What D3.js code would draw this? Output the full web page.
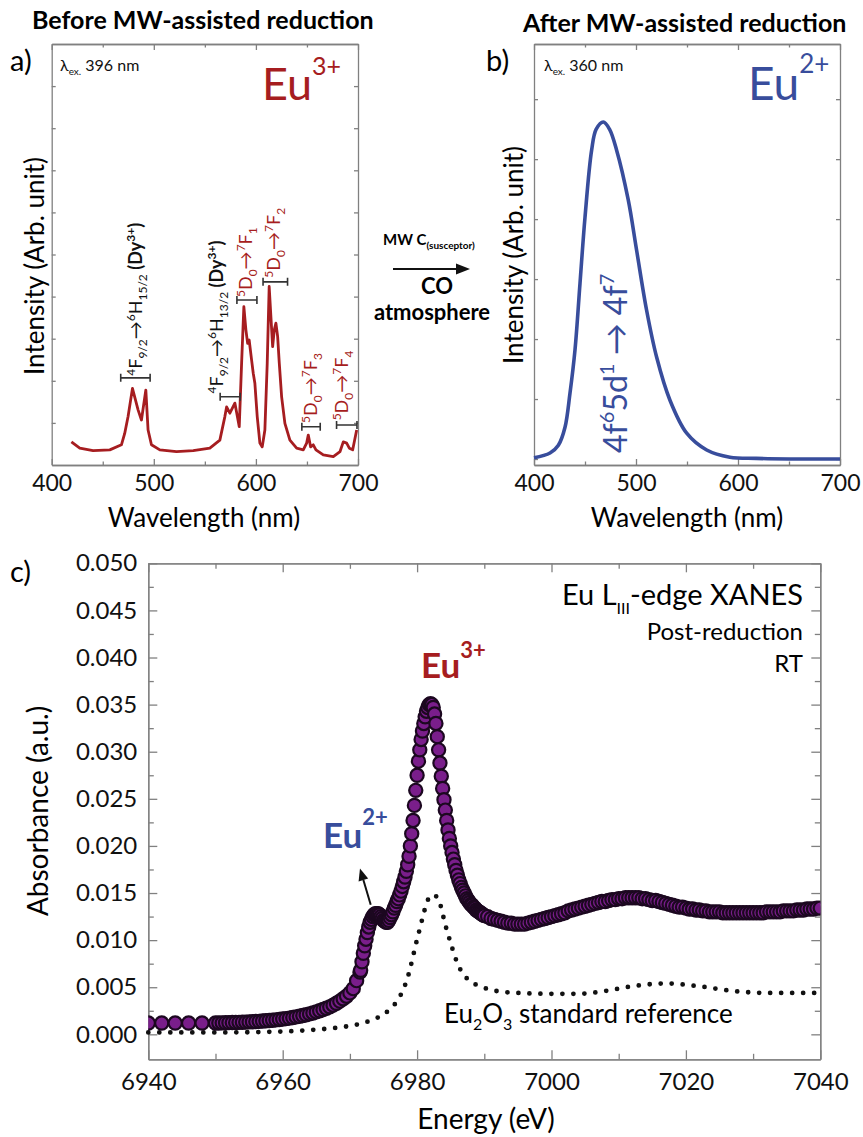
<!DOCTYPE html>
<html lang="en">
<head>
<meta charset="UTF-8">
<title>Eu emission before / after MW reduction and Eu L3-edge XANES</title>
<style>
  body { margin: 0; background: #fff; }
  svg text { font-family: Lato, "DejaVu Sans", sans-serif; }
</style>
</head>
<body>
<script src="https://d3js.org/d3.v7.min.js"></script>
<script>

// ---- panel a : emission before reduction (lambda ex 396 nm)
const wlA = [419.3, 427.5, 440.5, 456.9, 468.3, 471.5, 474.8, 479.1, 484.6, 487.9, 492.2, 494.4, 497.7,
  505.9, 522.2, 538.6, 554.9, 564.7, 569.6, 571.3, 574.5, 579.4, 583.7, 586, 588.2, 590.2, 591.9,
  593.4, 595.8, 597.4, 599, 601.3, 603.9, 606.2, 608.8, 611.1, 613, 614.7, 616.4, 618, 619.6,
  621.3, 622.9, 625.2, 628.4, 633.3, 639.9, 646.4, 649.7, 651.3, 653.6, 656.2, 658.8, 666,
  675.8, 682.4, 685.6, 688.9, 691.5, 694.8, 698.7];
const intA = [0.55, 0.40, 0.34, 0.36, 0.48, 0.75, 1.15, 1.82, 1.31, 1.07, 1.78, 0.83, 0.48,
  0.36, 0.32, 0.34, 0.40, 0.59, 1.15, 1.38, 1.23, 1.47, 0.91, 2.42, 3.76, 3.21, 2.89,
  2.97, 2.49, 2.18, 1.94, 1.15, 0.52, 0.43, 0.83, 2.42, 4.24, 3.52, 2.81, 3.21, 3.37,
  3.05, 2.42, 1.62, 0.99, 0.59, 0.40, 0.36, 0.52, 0.71, 0.43, 0.48, 0.36, 0.24,
  0.20, 0.32, 0.55, 0.52, 0.40, 0.36, 0.83];

// transition marks in panel a: bracket span (nm), bracket level, text position (nm, level)
const marks = [
  { w0: 467.6, w1: 496.4, lv: 2.07, tw: 488.4, tl: 2.12, c: 'dy', lo: '9/2', hi: '15/2' },
  { w0: 565.0, w1: 584.6, lv: 1.62, tw: 567.9, tl: 1.70, c: 'dy', lo: '9/2', hi: '13/2' },
  { w0: 581.4, w1: 601.0, lv: 3.92, tw: 596.1, tl: 3.99, c: 'eu', f: '1' },
  { w0: 607.0, w1: 631.0, lv: 4.35, tw: 623.8, tl: 4.45, c: 'eu', f: '2' },
  { w0: 645.0, w1: 663.0, lv: 0.91, tw: 659.5, tl: 1.00, c: 'eu', f: '3' },
  { w0: 679.0, w1: 699.0, lv: 0.95, tw: 690.5, tl: 1.06, c: 'eu', f: '4' }
];

// ---- panel b : emission after reduction (lambda ex 360 nm)
const wlB = [400, 415.7, 423.9, 430.4, 435.3, 440.2, 445.1, 450, 456.5, 461, 468, 474, 481,
  492.4, 500.6, 510.4, 520.2, 533.3, 549.7, 569.3, 592, 618, 650, 700];
const intB = [0.02, 0.10, 0.23, 0.53, 1.10, 1.82, 2.93, 4.03, 5.15, 5.50, 5.62, 5.50, 5.15,
  4.32, 3.48, 2.48, 1.70, 0.98, 0.43, 0.15, 0.03, 0.01, 0.0, 0.0];

// ---- panel c : Eu L3-edge XANES, post-reduction
const energy = [6940, 6942, 6944, 6946, 6948,
  6950, 6950.5, 6951, 6951.5, 6952, 6952.5, 6953, 6953.5, 6954, 6954.5, 6955, 6955.5, 6956, 6956.5,
  6957, 6957.5, 6958, 6958.5, 6959, 6959.5, 6960, 6960.5, 6961, 6961.5, 6962, 6962.5, 6963, 6963.5,
  6964, 6964.5, 6965, 6965.5, 6966, 6966.5, 6967, 6967.5, 6968, 6968.5, 6969, 6969.5, 6970, 6970.5,
  6971, 6971.5,
  6971.6, 6971.8, 6972, 6972.2, 6972.4, 6972.6, 6972.8, 6973, 6973.2, 6973.4, 6973.6, 6973.8,
  6974, 6974.2, 6974.4, 6974.6, 6974.8, 6975, 6975.2, 6975.4, 6975.6, 6975.8,
  6976, 6976.2, 6976.4, 6976.6, 6976.8, 6977, 6977.2, 6977.4, 6977.6, 6977.8,
  6978, 6978.2, 6978.4, 6978.6, 6978.8, 6979, 6979.2, 6979.4, 6979.6, 6979.8,
  6980, 6980.2, 6980.4, 6980.6, 6980.8, 6981, 6981.2, 6981.4, 6981.6, 6981.8,
  6982, 6982.2, 6982.4, 6982.6, 6982.8, 6983, 6983.2, 6983.4, 6983.6, 6983.8,
  6984, 6984.2, 6984.4, 6984.6, 6984.8, 6985, 6985.2, 6985.4, 6985.6, 6985.8,
  6986, 6986.2, 6986.4, 6986.6, 6986.8, 6987, 6987.2, 6987.4, 6987.6, 6987.8,
  6988, 6988.2, 6988.4, 6988.6, 6988.8, 6989, 6989.2, 6989.4, 6989.6, 6989.8, 6990,
  6990.5, 6991, 6991.5, 6992, 6992.5, 6993, 6993.5, 6994, 6994.5, 6995, 6995.5, 6996, 6996.5,
  6997, 6997.5, 6998, 6998.5, 6999, 6999.5, 7000, 7000.5, 7001, 7001.5, 7002, 7002.5, 7003, 7003.5,
  7004, 7004.5, 7005, 7005.5, 7006, 7006.5, 7007, 7007.5, 7008, 7008.5, 7009, 7009.5, 7010, 7010.5,
  7011, 7011.5, 7012, 7012.5, 7013, 7013.5, 7014, 7014.5, 7015, 7015.5, 7016, 7016.5, 7017, 7017.5,
  7018, 7018.5, 7019, 7019.5, 7020, 7020.5, 7021, 7021.5, 7022, 7022.5, 7023, 7023.5, 7024, 7024.5,
  7025, 7025.5, 7026, 7026.5, 7027, 7027.5, 7028, 7028.5, 7029, 7029.5, 7030, 7030.5, 7031, 7031.5,
  7032, 7032.5, 7033, 7033.5, 7034, 7034.5, 7035, 7035.5, 7036, 7036.5, 7037, 7037.5, 7038, 7038.5,
  7039, 7039.5, 7040];
const absorb = [0.0012, 0.0012, 0.0012, 0.0012, 0.0012,
  0.00120, 0.00121, 0.00122, 0.00123, 0.00124, 0.00125, 0.00126, 0.00127, 0.00129, 0.00130, 0.00132, 0.00134, 0.00136, 0.00138,
  0.00141, 0.00144, 0.00147, 0.00150, 0.00154, 0.00158, 0.00162, 0.00167, 0.00172, 0.00178, 0.00185, 0.00192, 0.00200, 0.00208,
  0.00217, 0.00227, 0.00238, 0.00250, 0.00263, 0.00277, 0.00292, 0.00310, 0.00330, 0.00352, 0.00377, 0.00405, 0.00440, 0.00485,
  0.00570, 0.00660,
  0.0068, 0.0077, 0.0086, 0.0094, 0.0101, 0.0108, 0.0114, 0.0119, 0.0122, 0.0125, 0.0127, 0.0128,
  0.0128, 0.0128, 0.0127, 0.0125, 0.0123, 0.0121, 0.0120, 0.0119, 0.0119, 0.0121,
  0.0124, 0.0127, 0.0130, 0.0134, 0.0137, 0.0141, 0.0144, 0.0148, 0.0152, 0.0157,
  0.0162, 0.0167, 0.0173, 0.0180, 0.0189, 0.0200, 0.0213, 0.0227, 0.0243, 0.0259,
  0.0275, 0.0290, 0.0302, 0.0313, 0.0322, 0.0330, 0.0337, 0.0343, 0.0347, 0.0350,
  0.0351, 0.0350, 0.0347, 0.0340, 0.0330, 0.0316, 0.0302, 0.0288, 0.0274, 0.0261,
  0.0249, 0.0238, 0.0227, 0.0217, 0.0208, 0.0200, 0.0193, 0.0186, 0.0180, 0.0174,
  0.0169, 0.0164, 0.0160, 0.0156, 0.0153, 0.0150, 0.0147, 0.0144, 0.0142, 0.0140,
  0.0138, 0.0137, 0.0135, 0.0134, 0.0132, 0.0131, 0.0130, 0.0129, 0.0128, 0.0127, 0.0126,
  0.0125, 0.0123, 0.0122, 0.0121, 0.0120, 0.0119, 0.0118, 0.0118, 0.0117, 0.0117, 0.0117, 0.0117, 0.0118,
  0.0119, 0.0120, 0.0121, 0.0122, 0.0123, 0.0124, 0.0125, 0.0126, 0.0127, 0.0128, 0.0129, 0.0131, 0.0132, 0.0133,
  0.0134, 0.0135, 0.0136, 0.0137, 0.0138, 0.0139, 0.0140, 0.0141, 0.0141, 0.0142, 0.0143, 0.0143, 0.0144, 0.0144,
  0.0145, 0.0145, 0.0145, 0.0145, 0.0145, 0.0144, 0.0144, 0.0143, 0.0142, 0.0142, 0.0141, 0.0140, 0.0139, 0.0138,
  0.0137, 0.0136, 0.0135, 0.0135, 0.0134, 0.0133, 0.0133, 0.0132, 0.0132, 0.0131, 0.0131, 0.0130, 0.0130, 0.0130,
  0.0130, 0.0129, 0.0129, 0.0129, 0.0129, 0.0129, 0.0129, 0.0129, 0.0129, 0.0129, 0.0129, 0.0129, 0.0129, 0.0129,
  0.0130, 0.0130, 0.0130, 0.0130, 0.0130, 0.0131, 0.0131, 0.0131, 0.0131, 0.0132, 0.0132, 0.0132, 0.0133, 0.0133,
  0.0133, 0.0134, 0.0134];

// Eu2O3 standard reference (dotted)
const refE = [6940, 6950, 6960, 6965, 6968, 6970, 6972, 6973.5, 6975, 6976, 6977, 6977.5, 6978.3, 6978.9,
  6979.4, 6979.9, 6980.4, 6980.9, 6981.4, 6982, 6982.4, 6982.9, 6983.4, 6983.9, 6984.4, 6985, 6985.6,
  6986.5, 6987.6, 6989.4, 6991.8, 6995, 7000, 7004, 7008, 7012, 7017, 7022, 7027, 7032, 7039.5];
const refA = [0.0002, 0.0002, 0.0003, 0.0005, 0.0007, 0.0009, 0.0012, 0.0016, 0.0021, 0.0027, 0.0035, 0.0041, 0.0054, 0.0068,
  0.0083, 0.0098, 0.0112, 0.0126, 0.0139, 0.0147, 0.0148, 0.0146, 0.0139, 0.0125, 0.0111, 0.0097, 0.0083,
  0.0068, 0.0058, 0.0051, 0.0046, 0.0044, 0.0043, 0.0043, 0.0046, 0.0051, 0.0054, 0.0051, 0.0046, 0.0044, 0.0044];

const RED = '#a61d20', BLUE = '#384d9c', PURPLE = '#7a1e8b', GREY = '#808080';

const svg = d3.select('body').append('svg')
  .attr('width', 863).attr('height', 1137);

// text with sub / superscripts, parts = [text, 'sup'|'sub'|'', bold]
function rich(t, parts, size, small, up, down) {
  let shift = 0;
  parts.forEach(([s, kind, bold]) => {
    const d = kind === 'sup' ? -up : kind === 'sub' ? down : 0;
    t.append('tspan').text(s)
      .attr('dy', d - shift)
      .attr('font-size', kind ? small : size)
      .attr('font-weight', bold ? 700 : null);
    shift = d;
  });
  return t;
}

// box with inward ticks on all four sides
function frame(x, y, o) {
  const g = svg.append('g');
  const [yb, yt] = y.range(), [xl, xr] = x.range();
  g.append('g').attr('transform', `translate(0,${yb})`)
    .call(d3.axisBottom(x).tickValues(o.xMajor).tickSize(-o.big).tickSizeOuter(0).tickPadding(o.xPad).tickFormat(d3.format('d')));
  g.append('g').attr('transform', `translate(0,${yb})`)
    .call(d3.axisBottom(x).tickValues(o.xMinor).tickSize(-o.small).tickSizeOuter(0).tickFormat(''));
  g.append('g').attr('transform', `translate(0,${yt})`)
    .call(d3.axisTop(x).tickValues(o.xMajor).tickSize(-o.big).tickSizeOuter(0).tickFormat(''));
  g.append('g').attr('transform', `translate(0,${yt})`)
    .call(d3.axisTop(x).tickValues(o.xMinor).tickSize(-o.small).tickSizeOuter(0).tickFormat(''));
  const left = d3.axisLeft(y).tickValues(o.yMajor).tickSize(-o.yBig).tickSizeOuter(0);
  if (o.yFmt) left.tickFormat(o.yFmt).tickPadding(o.yPad); else left.tickFormat('');
  const lg = g.append('g').attr('transform', `translate(${xl},0)`).call(left);
  g.append('g').attr('transform', `translate(${xr},0)`)
    .call(d3.axisRight(y).tickValues(o.yMajor).tickSize(-o.yBig).tickSizeOuter(0).tickFormat(''));
  if (o.yMinor) {
    g.append('g').attr('transform', `translate(${xl},0)`)
      .call(d3.axisLeft(y).tickValues(o.yMinor).tickSize(-o.small).tickSizeOuter(0).tickFormat(''));
    g.append('g').attr('transform', `translate(${xr},0)`)
      .call(d3.axisRight(y).tickValues(o.yMinor).tickSize(-o.small).tickSizeOuter(0).tickFormat(''));
  }
  g.selectAll('.domain, .tick line').attr('stroke', GREY).attr('stroke-width', 1.3);
  g.selectAll('g').attr('font-family', null).attr('font-size', o.font);
  g.selectAll('.tick text').attr('fill', '#111');
  if (o.yFont) lg.attr('font-size', o.yFont);
  return g;
}

// ============ panel a
const xA = d3.scaleLinear().domain([400, 700]).range([51.7, 358]);
const yA = d3.scaleLinear().domain([0, 10]).range([465, 44]);
frame(xA, yA, { xMajor: [400, 500, 600, 700], xMinor: [450, 550, 650], big: 6, small: 3.5,
  yMajor: d3.range(1, 10), yBig: 4, xPad: 10, font: 23 });

svg.append('path')
  .datum(wlA.map((w, i) => [w, intA[i]]))
  .attr('fill', 'none').attr('stroke', RED).attr('stroke-width', 2.8)
  .attr('stroke-linejoin', 'round')
  .attr('d', d3.line().x(d => xA(d[0])).y(d => yA(d[1])));

marks.forEach(m => {
  const y = yA(m.lv), a = xA(m.w0), b = xA(m.w1);
  svg.append('path')
    .attr('d', `M${a},${y}H${b}M${a},${y - 4}V${y + 4}M${b},${y - 4}V${y + 4}`)
    .attr('stroke', '#333').attr('stroke-width', 1.6).attr('fill', 'none');
  const t = svg.append('text')
    .attr('transform', `translate(${xA(m.tw)},${yA(m.tl)}) rotate(-90)`)
    .attr('fill', m.c === 'dy' ? '#111' : RED);
  if (m.c === 'dy') {
    rich(t, [['4', 'sup'], ['F', ''], [m.lo, 'sub'], ['\u2192', ''], ['6', 'sup'], ['H', ''], [m.hi, 'sub'],
      [' (Dy', '', true], ['3+', 'sup', true], [')', '', true]], 18, 12, 7, 5);
  } else {
    rich(t, [['5', 'sup'], ['D', ''], ['0', 'sub'], ['\u2192', ''], ['7', 'sup'], ['F', ''], [m.f, 'sub']], 18, 12, 7, 5);
  }
});

svg.append('text').attr('x', 32).attr('y', 29).attr('font-size', 25).attr('font-weight', 700)
  .text('Before MW-assisted reduction');
svg.append('text').attr('x', 10).attr('y', 71).attr('font-size', 29).text('a)');
rich(svg.append('text').attr('x', 60).attr('y', 71).attr('fill', '#111'),
  [['\u03bb', ''], ['ex.', 'sub'], [' 396 nm', '']], 16, 10, 0, 4);
rich(svg.append('text').attr('x', 262).attr('y', 100).attr('fill', RED),
  [['Eu', ''], ['3+', 'sup']], 45, 25, 25, 0);
svg.append('text').attr('transform', 'translate(44,266) rotate(-90)')
  .attr('text-anchor', 'middle').attr('font-size', 26).text('Intensity (Arb. unit)');
svg.append('text').attr('x', 204).attr('y', 527).attr('text-anchor', 'middle')
  .attr('font-size', 26).text('Wavelength (nm)');

// reduction arrow between a and b
rich(svg.append('text').attr('x', 383).attr('y', 245).attr('font-weight', 700),
  [['MW C', ''], ['(susceptor)', 'sub']], 15, 10, 0, 4);
svg.append('line').attr('x1', 393).attr('x2', 458).attr('y1', 269).attr('y2', 269)
  .attr('stroke', '#111').attr('stroke-width', 2);
svg.append('path').attr('d', 'M456,263.5L470,269L456,274.5Z').attr('fill', '#111');
svg.append('text').attr('x', 437).attr('y', 294).attr('text-anchor', 'middle')
  .attr('font-size', 22).attr('font-weight', 700).text('CO');
svg.append('text').attr('x', 432).attr('y', 320).attr('text-anchor', 'middle')
  .attr('font-size', 22).attr('font-weight', 700).text('atmosphere');

// ============ panel b
const xB = d3.scaleLinear().domain([400, 700]).range([534, 840]);
const yB = d3.scaleLinear().domain([-0.1, 6.92]).range([465, 44]);
frame(xB, yB, { xMajor: [400, 500, 600, 700], xMinor: [450, 550, 650], big: 6, small: 3.5,
  yMajor: d3.range(0, 7), yBig: 4, xPad: 10, font: 23 });

svg.append('path')
  .datum(wlB.map((w, i) => [w, intB[i]]))
  .attr('fill', 'none').attr('stroke', BLUE).attr('stroke-width', 3.6)
  .attr('d', d3.line().curve(d3.curveCatmullRom.alpha(0.5)).x(d => xB(d[0])).y(d => yB(d[1])));

svg.append('text').attr('x', 523).attr('y', 32).attr('font-size', 25).attr('font-weight', 700)
  .text('After MW-assisted reduction');
svg.append('text').attr('x', 486).attr('y', 71).attr('font-size', 29).text('b)');
rich(svg.append('text').attr('x', 544).attr('y', 71).attr('fill', '#111'),
  [['\u03bb', ''], ['ex.', 'sub'], [' 360 nm', '']], 16, 10, 0, 4);
rich(svg.append('text').attr('x', 748).attr('y', 100).attr('fill', BLUE),
  [['Eu', ''], ['2+', 'sup']], 46, 26, 27, 0);
svg.append('text').attr('transform', 'translate(523,255) rotate(-90)')
  .attr('text-anchor', 'middle').attr('font-size', 26).text('Intensity (Arb. unit)');
svg.append('text').attr('x', 687).attr('y', 527).attr('text-anchor', 'middle')
  .attr('font-size', 26).text('Wavelength (nm)');
rich(svg.append('text').attr('transform', `translate(${xB(491)},${yB(0.1)}) rotate(-90)`).attr('fill', BLUE),
  [['4f', ''], ['6', 'sup'], ['5d', ''], ['1', 'sup'], [' \u2192 4f', ''], ['7', 'sup']], 32, 20, 13, 0);

// ============ panel c
const xC = d3.scaleLinear().domain([6940, 7040]).range([148.3, 820.3]);
const yC = d3.scaleLinear().domain([-0.00265, 0.05]).range([1059.3, 563.3]);
frame(xC, yC, { xMajor: d3.range(6940, 7041, 20), xMinor: d3.range(6950, 7040, 20), big: 9, small: 5.5,
  yMajor: d3.range(0, 0.0501, 0.005), yMinor: d3.range(0.0025, 0.05, 0.005), yBig: 9,
  yFmt: d3.format('.3f'), yPad: 11, xPad: 14, font: 24, yFont: 26 });

svg.append('clipPath').attr('id', 'clipC').append('rect')
  .attr('x', 148.3).attr('y', 563.3).attr('width', 672).attr('height', 496);

svg.append('path')
  .datum(refE.map((e, i) => [e, refA[i]]))
  .attr('fill', 'none').attr('stroke', '#111').attr('stroke-width', 4.8)
  .attr('stroke-linecap', 'round').attr('stroke-dasharray', '0 11')
  .attr('d', d3.line().curve(d3.curveMonotoneX).x(d => xC(d[0])).y(d => yC(d[1])));

svg.append('g').attr('clip-path', 'url(#clipC)')
  .selectAll('circle')
  .data(energy.map((e, i) => [e, absorb[i]]))
  .join('circle')
  .attr('cx', d => xC(d[0])).attr('cy', d => yC(d[1])).attr('r', 6.6)
  .attr('fill', PURPLE).attr('stroke', '#1c0820').attr('stroke-width', 2.2);

// Eu2+ shoulder arrow
const arrow = { from: [6973.1, 0.01375], to: [6971.5, 0.0176] };
{
  const [x1, y1] = [xC(arrow.from[0]), yC(arrow.from[1])];
  const [x2, y2] = [xC(arrow.to[0]), yC(arrow.to[1])];
  const ang = Math.atan2(y2 - y1, x2 - x1), L = 12, W = 5;
  const bx = x2 - L * Math.cos(ang), by = y2 - L * Math.sin(ang);
  svg.append('line').attr('x1', x1).attr('y1', y1).attr('x2', bx).attr('y2', by)
    .attr('stroke', '#111').attr('stroke-width', 2);
  svg.append('path').attr('fill', '#111')
    .attr('d', `M${x2},${y2}L${bx + W * Math.sin(ang)},${by - W * Math.cos(ang)}L${bx - W * Math.sin(ang)},${by + W * Math.cos(ang)}Z`);
}

svg.append('text').attr('x', 10).attr('y', 582).attr('font-size', 29).text('c)');
rich(svg.append('text').attr('x', 421).attr('y', 678).attr('fill', RED).attr('font-weight', 700),
  [['Eu', ''], ['3+', 'sup']], 35, 22, 20, 0);
rich(svg.append('text').attr('x', 323).attr('y', 848).attr('fill', BLUE).attr('font-weight', 700),
  [['Eu', ''], ['2+', 'sup']], 35, 22, 23, 0);
rich(svg.append('text').attr('x', 803).attr('y', 605).attr('text-anchor', 'end'),
  [['Eu L', ''], ['III', 'sub'], ['-edge XANES', '']], 29, 16, 0, 9);
svg.append('text').attr('x', 803).attr('y', 640).attr('text-anchor', 'end').attr('font-size', 24)
  .text('Post-reduction');
svg.append('text').attr('x', 803).attr('y', 672).attr('text-anchor', 'end').attr('font-size', 24)
  .text('RT');
rich(svg.append('text').attr('x', 444).attr('y', 1023),
  [['Eu', ''], ['2', 'sub'], ['O', ''], ['3', 'sub'], [' standard reference', '']], 26, 16, 0, 7);
svg.append('text').attr('transform', 'translate(48,811) rotate(-90)')
  .attr('text-anchor', 'middle').attr('font-size', 28).text('Absorbance (a.u.)');
svg.append('text').attr('x', 486).attr('y', 1129).attr('text-anchor', 'middle')
  .attr('font-size', 28).text('Energy (eV)');

</script>
</body>
</html>
